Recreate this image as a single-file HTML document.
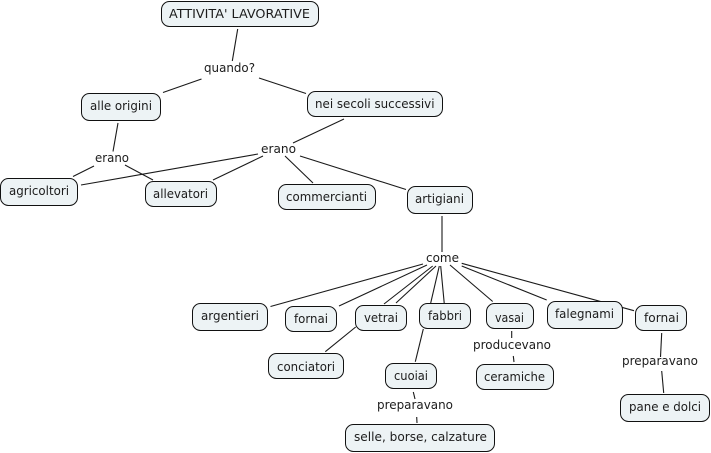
<!DOCTYPE html>
<html><head><meta charset="utf-8"><style>
html,body{margin:0;padding:0;background:#fff}
svg{display:block}
text{font-family:"DejaVu Sans",Verdana,sans-serif;font-size:12.5px;fill:#1c1c1c}
.n{fill:#edf3f5;stroke:#111;stroke-width:1}
.l{stroke:#1a1a1a;stroke-width:1.1;fill:none}
</style></head><body>
<svg width="711" height="453" viewBox="0 0 711 453" xmlns="http://www.w3.org/2000/svg">
<g class="l">
<path d="M237.7 29L232.3 61"/>
<path d="M201.5 79L163 92.5"/>
<path d="M259 78L306 93.5"/>
<path d="M118 123L113 151.5"/>
<path d="M94 166L73 176.5"/>
<path d="M125 165L153 180"/>
<path d="M344 119L293 143"/>
<path d="M258 154L81 185"/>
<path d="M263 156L213 180"/>
<path d="M285 156L313 183"/>
<path d="M300 156L406 189.5"/>
<path d="M442 216L442 252"/>
<path d="M423 264L270.5 306.5"/>
<path d="M427 265L339 306"/>
<path d="M432.7 266L384 304"/>
<path d="M436 266L396 303"/>
<path d="M439.3 266L430.7 303"/>
<path d="M440.7 266L444.3 304"/>
<path d="M450 265L492.7 301.5"/>
<path d="M461.7 266L546.7 300"/>
<path d="M461.7 263.3L634 310.7"/>
<path d="M423.3 329L415.3 361.7"/>
<path d="M355.7 327L325.3 351.7"/>
<path d="M413.3 392L415 399"/>
<path d="M416.7 417L417 423"/>
<path d="M511.7 331L511.7 338"/>
<path d="M513.3 356L514 362"/>
<path d="M661.7 333L660.5 357"/>
<path d="M661.7 371L663.7 393"/>
</g>
<g>
<rect class="n" x="161.5" y="1.5" width="157" height="25" rx="8"/>
<rect class="n" x="81.5" y="93.5" width="79" height="27" rx="8"/>
<rect class="n" x="307.5" y="91.5" width="135" height="25" rx="8"/>
<rect class="n" x="0.5" y="178.5" width="77" height="27" rx="8"/>
<rect class="n" x="145.5" y="181.5" width="71" height="25" rx="8"/>
<rect class="n" x="278.5" y="184.5" width="97" height="25" rx="8"/>
<rect class="n" x="407.5" y="186.5" width="65" height="27" rx="8"/>
<rect class="n" x="192.5" y="303.5" width="75" height="27" rx="8"/>
<rect class="n" x="285.5" y="306.5" width="51" height="25" rx="8"/>
<rect class="n" x="355.5" y="305.5" width="51" height="25" rx="8"/>
<rect class="n" x="419.5" y="303.5" width="51" height="25" rx="8"/>
<rect class="n" x="268.5" y="353.5" width="75" height="25" rx="8"/>
<rect class="n" x="385.5" y="363.5" width="51" height="25" rx="8"/>
<rect class="n" x="345.5" y="424.5" width="149" height="27" rx="8"/>
<rect class="n" x="486.5" y="303.5" width="47" height="25" rx="8"/>
<rect class="n" x="476.5" y="364.5" width="77" height="25" rx="8"/>
<rect class="n" x="547.5" y="301.5" width="75" height="27" rx="8"/>
<rect class="n" x="635.5" y="305.5" width="51" height="25" rx="8"/>
<rect class="n" x="620.5" y="394.5" width="89" height="27" rx="8"/>
</g>
<g>
<text x="169" y="18" textLength="141" lengthAdjust="spacingAndGlyphs">ATTIVITA' LAVORATIVE</text>
<text x="204" y="72" textLength="51" lengthAdjust="spacingAndGlyphs">quando?</text>
<text x="90" y="110" textLength="62" lengthAdjust="spacingAndGlyphs">alle origini</text>
<text x="315" y="108" textLength="119.5" lengthAdjust="spacingAndGlyphs">nei secoli successivi</text>
<text x="95" y="162" textLength="34" lengthAdjust="spacingAndGlyphs">erano</text>
<text x="261" y="153" textLength="35" lengthAdjust="spacingAndGlyphs">erano</text>
<text x="9" y="195" textLength="60" lengthAdjust="spacingAndGlyphs">agricoltori</text>
<text x="153" y="198" textLength="55" lengthAdjust="spacingAndGlyphs">allevatori</text>
<text x="286" y="201" textLength="81" lengthAdjust="spacingAndGlyphs">commercianti</text>
<text x="415" y="203" textLength="49" lengthAdjust="spacingAndGlyphs">artigiani</text>
<text x="426" y="262" textLength="33" lengthAdjust="spacingAndGlyphs">come</text>
<text x="201" y="320" textLength="58" lengthAdjust="spacingAndGlyphs">argentieri</text>
<text x="294" y="323" textLength="34" lengthAdjust="spacingAndGlyphs">fornai</text>
<text x="364" y="322" textLength="34" lengthAdjust="spacingAndGlyphs">vetrai</text>
<text x="428" y="320" textLength="34" lengthAdjust="spacingAndGlyphs">fabbri</text>
<text x="495" y="322" textLength="29" lengthAdjust="spacingAndGlyphs">vasai</text>
<text x="555" y="318" textLength="59" lengthAdjust="spacingAndGlyphs">falegnami</text>
<text x="644" y="322" textLength="35" lengthAdjust="spacingAndGlyphs">fornai</text>
<text x="277" y="371" textLength="58" lengthAdjust="spacingAndGlyphs">conciatori</text>
<text x="394" y="380" textLength="34" lengthAdjust="spacingAndGlyphs">cuoiai</text>
<text x="473" y="349" textLength="78" lengthAdjust="spacingAndGlyphs">producevano</text>
<text x="484" y="381" textLength="61" lengthAdjust="spacingAndGlyphs">ceramiche</text>
<text x="622" y="365" textLength="76" lengthAdjust="spacingAndGlyphs">preparavano</text>
<text x="377" y="409" textLength="76" lengthAdjust="spacingAndGlyphs">preparavano</text>
<text x="629" y="411" textLength="72" lengthAdjust="spacingAndGlyphs">pane e dolci</text>
<text x="354" y="441" textLength="133" lengthAdjust="spacingAndGlyphs">selle, borse, calzature</text>
</g>
</svg>
</body></html>
